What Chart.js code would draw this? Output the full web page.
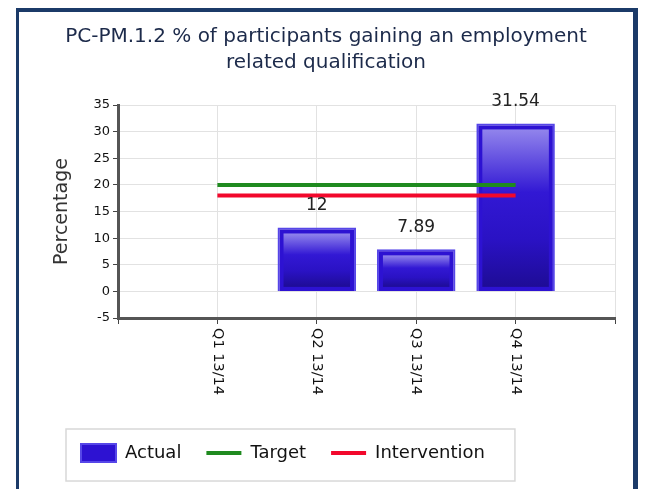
<!DOCTYPE html>
<html>
<head>
<meta charset="utf-8">
<script src="https://cdn.jsdelivr.net/npm/chart.js@4.4.1/dist/chart.umd.min.js"></script>
<style>
  html, body { margin: 0; padding: 0; background: #fff; overflow: hidden; }
  #wrap { position: relative; width: 650px; height: 489px; }
  #frame { position: absolute; left: 16px; top: 8px; width: 614px; height: 500px;
           border-top: 4px solid #1b3a68; border-left: 3px solid #1b3a68; border-right: 5px solid #1b3a68;
           pointer-events: none; }
</style>
</head>
<body>
<div id="wrap">
  <canvas id="chart" width="650" height="489"></canvas>
  <div id="frame"></div>
</div>
<script>
const quarters = ['Q1 13/14', 'Q2 13/14', 'Q3 13/14', 'Q4 13/14'];
const actual = [null, 12, 7.89, 31.54];
const target = [20, 20, 20, 20];
const intervention = [18, 18, 18, 18];
const yMin = -5, yMax = 35, yStep = 5;

Chart.defaults.font.family = '"DejaVu Sans", sans-serif';

// points on the linear x axis: quarter i sits at x = i + 1
const toPoints = arr => arr.map((v, i) => ({ x: i + 1, y: v }));

// centre the title on the whole card, not just the padded area
const titleCentre = {
  id: 'titleCentre',
  afterLayout(chart) {
    const tb = chart.titleBlock;
    tb.left = 0;
    tb.right = chart.width + 2;
  }
};

// lighter inner panel on each bar
const barShine = {
  id: 'barShine',
  afterDatasetDraw(chart, args) {
    if (args.index !== 0) return;
    const ctx = chart.ctx;
    args.meta.data.forEach((bar, i) => {
      if (actual[i] == null) return;
      const p = bar.getProps(['x', 'y', 'base', 'width'], true);
      const l = p.x - p.width / 2 + 6, r = p.x + p.width / 2 - 6;
      const t = p.y + 6, b = p.base - 4;
      if (b - t < 4) return;
      const g = ctx.createLinearGradient(0, t, 0, b);
      g.addColorStop(0, '#9184ec');
      g.addColorStop(0.4, '#3218d4');
      g.addColorStop(0.7, '#2a12c4');
      g.addColorStop(1, '#1e0c96');
      ctx.save();
      ctx.fillStyle = g;
      ctx.fillRect(l, t, r - l, b - t);
      ctx.restore();
    });
  }
};

// value above each bar
const valueLabels = {
  id: 'valueLabels',
  afterDatasetsDraw(chart) {
    const ctx = chart.ctx;
    const meta = chart.getDatasetMeta(0);
    ctx.save();
    ctx.font = '17px "DejaVu Sans"';
    ctx.fillStyle = '#222';
    ctx.textAlign = 'center';
    ctx.textBaseline = 'middle';
    meta.data.forEach((bar, i) => {
      if (actual[i] == null) return;
      ctx.fillText(String(actual[i]), bar.x, bar.y - 22);
    });
    ctx.restore();
  }
};

// quarter labels, turned to read downwards
const quarterLabels = {
  id: 'quarterLabels',
  afterDraw(chart) {
    const xs = chart.scales.x;
    const ctx = chart.ctx;
    ctx.save();
    ctx.font = '14.5px "DejaVu Sans"';
    ctx.fillStyle = '#111';
    ctx.textAlign = 'left';
    ctx.textBaseline = 'middle';
    quarters.forEach((q, i) => {
      ctx.save();
      ctx.translate(xs.getPixelForValue(i + 1), xs.top + 10);
      ctx.rotate(Math.PI / 2);
      ctx.fillText(q, 0, 0);
      ctx.restore();
    });
    ctx.restore();
  }
};

// thin grey box round the legend
const legendFrame = {
  id: 'legendFrame',
  afterDraw(chart) {
    const boxes = chart.legend.legendHitBoxes;
    if (!boxes || !boxes.length) return;
    const first = boxes[0], last = boxes[boxes.length - 1];
    const l = first.left - 15, r = last.left + last.width + 30;
    const t = first.top - 15, b = first.top + first.height + 19;
    const ctx = chart.ctx;
    ctx.save();
    ctx.strokeStyle = '#d8d8d8';
    ctx.lineWidth = 1.5;
    ctx.strokeRect(l, t, r - l, b - t);
    ctx.restore();
  }
};

new Chart(document.getElementById('chart'), {
  type: 'bar',
  data: {
    datasets: [
      {
        type: 'bar',
        label: 'Actual',
        data: toPoints(actual),
        backgroundColor: '#2d12d2',
        borderColor: '#5646e8',
        borderWidth: 2,
        categoryPercentage: 0.79,
        barPercentage: 1,
        pointStyle: 'rect',
        order: 1
      },
      {
        type: 'line',
        label: 'Target',
        data: toPoints(target),
        borderColor: '#1f8a1f',
        backgroundColor: '#1f8a1f',
        borderWidth: 4,
        pointRadius: 0,
        pointStyle: 'line',
        order: 0
      },
      {
        type: 'line',
        label: 'Intervention',
        data: toPoints(intervention),
        borderColor: '#f2082c',
        backgroundColor: '#f2082c',
        borderWidth: 4,
        pointRadius: 0,
        pointStyle: 'line',
        order: 0
      }
    ]
  },
  options: {
    responsive: false,
    animation: false,
    layout: { padding: { top: 14, left: 56, right: 35, bottom: 17 } },
    plugins: {
      title: {
        display: true,
        text: ['PC-PM.1.2 % of participants gaining an employment', 'related qualification'],
        color: '#1c2a4a',
        font: { size: 20, weight: 'normal', lineHeight: 1.3 },
        padding: { top: 10, bottom: 29 }
      },
      legend: {
        position: 'bottom',
        align: 'start',
        labels: {
          usePointStyle: true,
          pointStyleWidth: 35,
          boxHeight: 19,
          color: '#111',
          font: { size: 18 },
          padding: 25,
          sort: (a, b) => a.datasetIndex - b.datasetIndex
        }
      },
      tooltip: { enabled: false }
    },
    scales: {
      x: {
        type: 'linear',
        min: 0,
        max: quarters.length + 1,
        offset: false,
        ticks: { display: false, stepSize: 1 },
        grid: { offset: false, color: '#e2e2e2', tickColor: '#444', tickLength: 6 },
        border: { color: '#555', width: 3 },
        afterFit: s => { s.height = 101; }
      },
      y: {
        min: yMin,
        max: yMax,
        ticks: { stepSize: yStep, color: '#111', font: { size: 13 }, padding: 3 },
        grid: { color: '#e2e2e2', tickColor: '#444', tickLength: 5 },
        border: { color: '#555', width: 3 },
        title: { display: true, text: 'Percentage', color: '#333', font: { size: 19 }, padding: { top: -5.4, bottom: 0 } },
        afterFit: s => { s.width = 62; }
      }
    }
  },
  plugins: [titleCentre, barShine, valueLabels, quarterLabels, legendFrame]
});
</script>
</body>
</html>
